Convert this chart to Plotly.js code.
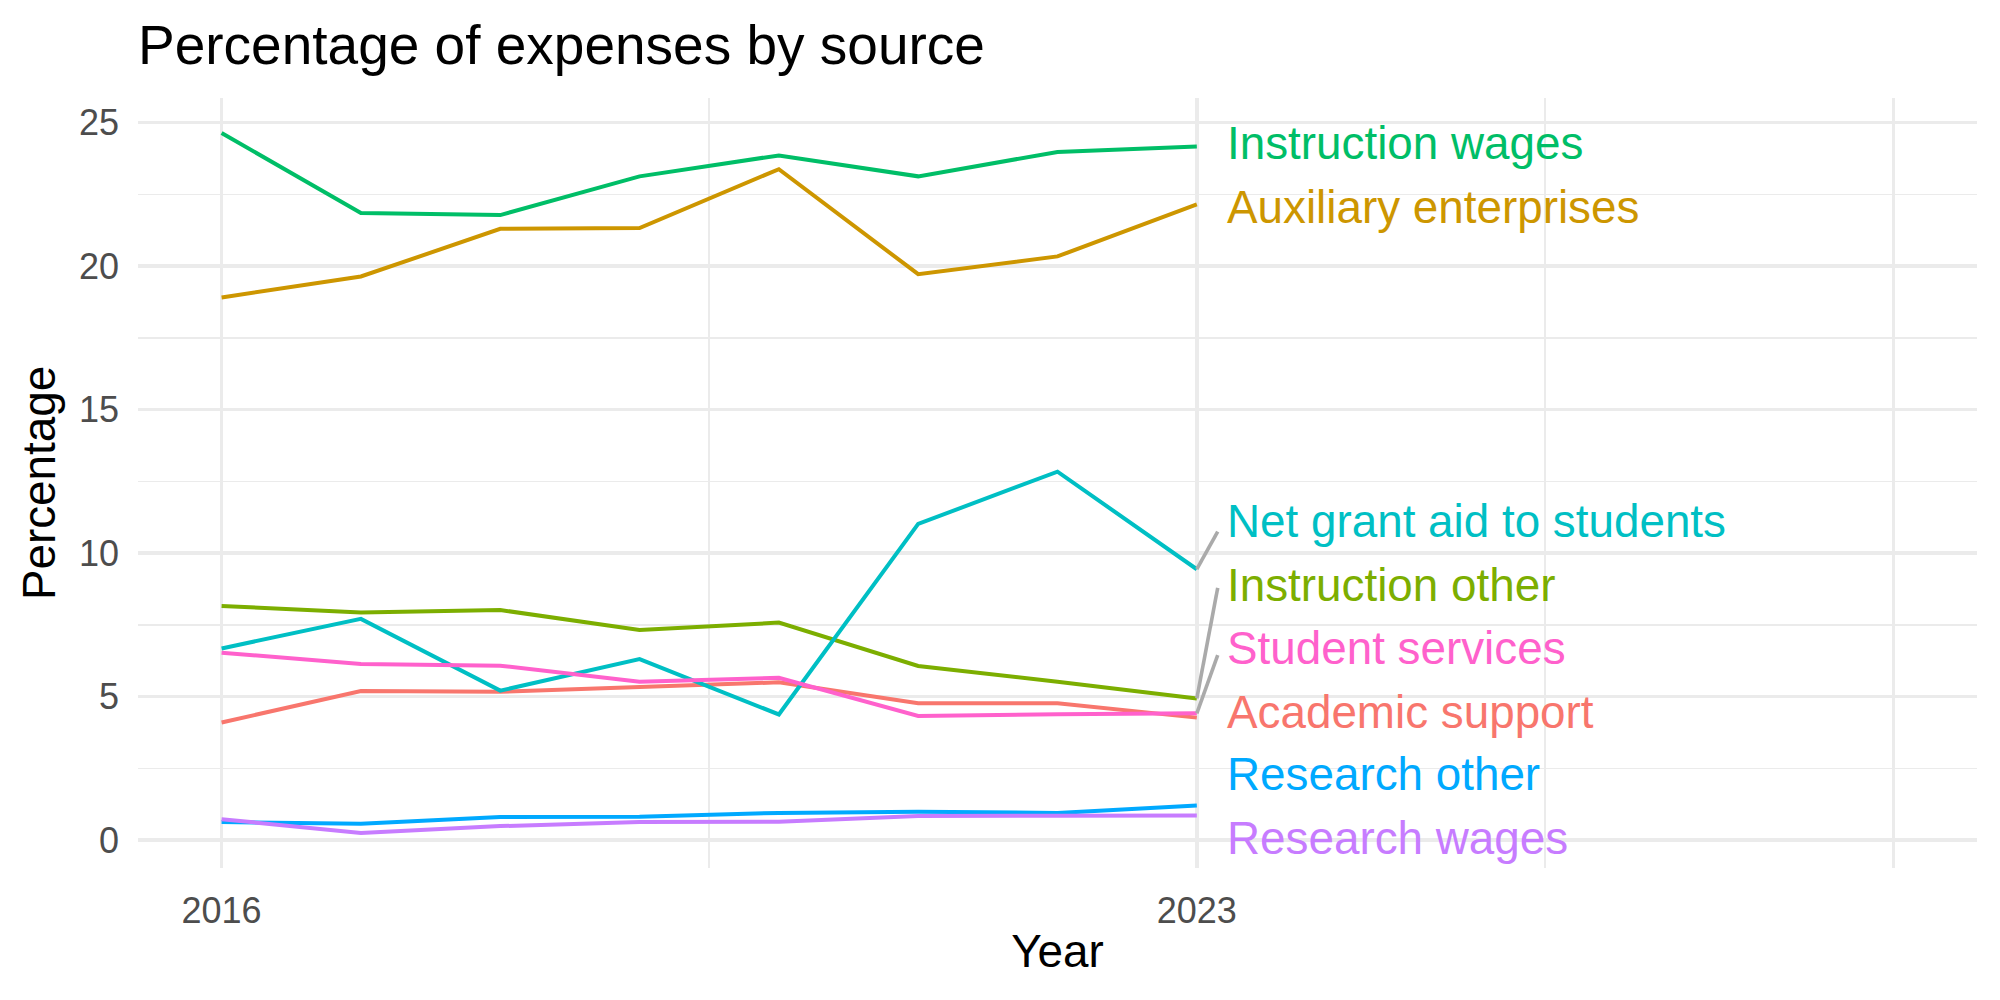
<!DOCTYPE html>
<html>
<head>
<meta charset="utf-8">
<script src="https://cdn.plot.ly/plotly-3.0.1.min.js"></script>
<style>html,body{margin:0;padding:0;background:#fff;}#chart{width:2000px;height:1000px;}</style>
</head>
<body>
<div id="chart"></div>
<script>
// ---- data ----
const years = [2016, 2017, 2018, 2019, 2020, 2021, 2022, 2023];
const seriesNames = ["Academic support", "Auxiliary enterprises", "Instruction other", "Instruction wages",
                     "Net grant aid to students", "Research other", "Research wages", "Student services"];
const academicSupport      = [4.10, 5.20, 5.17, 5.32, 5.50, 4.77, 4.77, 4.27];
const auxiliaryEnterprises = [18.91, 19.64, 21.30, 21.33, 23.38, 19.72, 20.34, 22.15];
const instructionOther     = [8.16, 7.93, 8.02, 7.32, 7.58, 6.07, 5.52, 4.94];
const instructionWages     = [24.64, 21.85, 21.78, 23.13, 23.86, 23.13, 23.98, 24.17];
const netGrantAid          = [6.68, 7.71, 5.21, 6.31, 4.38, 11.02, 12.84, 9.44];
const researchOther        = [0.63, 0.57, 0.81, 0.82, 0.95, 0.99, 0.95, 1.21];
const researchWages        = [0.73, 0.25, 0.49, 0.63, 0.64, 0.84, 0.85, 0.86];
const studentServices      = [6.53, 6.14, 6.08, 5.52, 5.66, 4.33, 4.39, 4.42];
// repelled label positions (y, in data units) for each series, same order as seriesNames
const labelY = [4.46, 22.04, 8.89, 24.27, 11.09, 2.30, 0.07, 6.69];
// leader segment end y (null = no segment)
const segmentEndY = [null, null, 8.79, null, 10.75, null, null, 6.45];
const xTickVals = [2016, 2023, 2028];
const xTickText = ["2016", "2023", ""];
const xMinorVals = [2019.5, 2025.5];
const yTickVals = [0, 5, 10, 15, 20, 25];
const yMinorVals = [2.5, 7.5, 12.5, 17.5, 22.5];

// ---- style ----
const colors = ["#F8766D", "#CD9600", "#7CAE00", "#00BE67", "#00BFC4", "#00A9FF", "#C77CFF", "#FF61CC"];
const FONT = "Liberation Sans, Arial, Helvetica, sans-serif";
const allSeries = [academicSupport, auxiliaryEnterprises, instructionOther, instructionWages,
                   netGrantAid, researchOther, researchWages, studentServices];
const labelX = 2023.2;
const segmentX = 2023.15;

const traces = [];
allSeries.forEach((vals, i) => {
  traces.push({
    x: years, y: vals, type: "scatter", mode: "lines",
    line: {color: colors[i], width: 4},
    name: seriesNames[i], hoverinfo: "skip", showlegend: false
  });
});
allSeries.forEach((vals, i) => {
  if (segmentEndY[i] === null) return;
  traces.push({
    x: [years[years.length - 1], segmentX], y: [vals[vals.length - 1], segmentEndY[i]],
    type: "scatter", mode: "lines",
    line: {color: "#AAAAAA", width: 3.6},
    hoverinfo: "skip", showlegend: false
  });
});

const annotations = seriesNames.map((n, i) => ({
  x: labelX, y: labelY[i], xref: "x", yref: "y",
  text: n, showarrow: false, xanchor: "left", yanchor: "middle",
  font: {family: FONT, size: 45.8, color: colors[i]}
}));

const layout = {
  width: 2000, height: 1000,
  paper_bgcolor: "#ffffff", plot_bgcolor: "#ffffff",
  margin: {l: 138, r: 23, t: 98, b: 132, pad: 0},
  font: {family: FONT},
  title: {
    text: "Percentage of expenses by source",
    font: {family: FONT, size: 55, color: "#000000"},
    xref: "paper", x: 0, xanchor: "left",
    yref: "container", y: 0.955, yanchor: "middle"
  },
  xaxis: {
    range: [2015.4, 2028.6],
    tickmode: "array", tickvals: xTickVals, ticktext: xTickText,
    showgrid: true, gridcolor: "#EBEBEB", gridwidth: 3.6,
    minor: {tickmode: "array", tickvals: xMinorVals, showgrid: true, gridcolor: "#EBEBEB", gridwidth: 1.8, ticks: ""},
    zeroline: false, showline: false, ticks: "",
    tickfont: {family: FONT, size: 36, color: "#4D4D4D"},
    ticklabelstandoff: 18,
    title: {text: "Year", font: {family: FONT, size: 45.8, color: "#000000"}, standoff: 4}
  },
  yaxis: {
    range: [-0.97, 25.86],
    tickmode: "array", tickvals: yTickVals,
    showgrid: true, gridcolor: "#EBEBEB", gridwidth: 3.6,
    minor: {tickmode: "array", tickvals: yMinorVals, showgrid: true, gridcolor: "#EBEBEB", gridwidth: 1.8, ticks: ""},
    zeroline: false, showline: false, ticks: "",
    tickfont: {family: FONT, size: 36, color: "#4D4D4D"},
    ticklabelstandoff: 18,
    title: {text: "Percentage", font: {family: FONT, size: 45.8, color: "#000000"}, standoff: 8}
  },
  annotations: annotations
};

Plotly.newPlot("chart", traces, layout, {staticPlot: true, displayModeBar: false});
</script>
</body>
</html>
